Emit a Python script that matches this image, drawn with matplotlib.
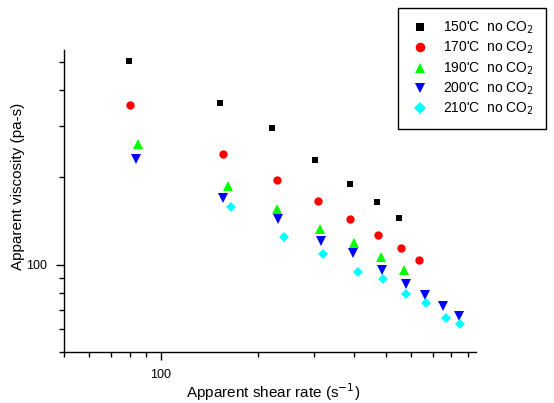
import matplotlib
matplotlib.use("Agg")
import matplotlib.pyplot as plt
from matplotlib.ticker import LogLocator, NullFormatter, FixedLocator, FixedFormatter

plt.rcParams['font.family'] = ['Liberation Sans', 'DejaVu Sans']

labels = ["150'C  no CO$_2$", "170'C  no CO$_2$", "190'C  no CO$_2$",
          "200'C  no CO$_2$", "210'C  no CO$_2$"]

x150 = [79.6, 152.3, 221.1, 302.3, 388.4, 468.8, 550.5]
y150 = [505.1, 359.8, 295.5, 230.3, 189.6, 164.3, 145.0]

x170 = [80.4, 155.6, 229.1, 308.2, 388.4, 472.3, 558.4, 636.6]
y170 = [354.1, 240.3, 195.3, 166.2, 143.5, 126.7, 114.5, 104.1]

x190 = [85.1, 161.3, 229.8, 312.6, 398.8, 482.5, 568.8]
y190 = [260.2, 187.2, 155.8, 132.9, 118.5, 106.3, 95.6]

x200 = [83.7, 156.4, 231.4, 315.6, 394.8, 486.0, 580.0, 663.0, 754.0, 843.3]
y200 = [231.4, 170.1, 143.2, 120.4, 110.0, 96.1, 85.7, 78.6, 72.3, 66.3]

x210 = [165.7, 240.9, 319.4, 410.5, 490.8, 578.7, 667.8, 770.4, 851.8]
y210 = [157.5, 124.8, 108.9, 94.6, 89.2, 79.4, 73.7, 65.6, 62.4]

series = [
    (x150, y150, 's', '#000000', 5.0),
    (x170, y170, 'o', '#FF0000', 6.0),
    (x190, y190, '^', '#00FF00', 6.5),
    (x200, y200, 'v', '#0000FF', 6.5),
    (x210, y210, 'D', '#00FFFF', 5.5),
]

fig = plt.figure(figsize=(5.54, 4.03), dpi=100)
ax = fig.add_axes([64/554, 51/403, (476-64)/554, (352-50)/403])

handles = []
for (xs, ys, m, c, ms), lab in zip(series, labels):
    h, = ax.plot(xs, ys, linestyle='none', marker=m, color=c, markersize=ms,
                 markeredgewidth=0, label=lab)
    handles.append(h)

ax.set_xscale('log')
ax.set_yscale('log')
ax.set_xlim(50, 955)
ax.set_ylim(50, 550)

for a in (ax.xaxis, ax.yaxis):
    a.set_major_locator(FixedLocator([100]))
    a.set_major_formatter(FixedFormatter(['100']))
    a.set_minor_locator(LogLocator(base=10, subs=range(2, 10)))
    a.set_minor_formatter(NullFormatter())

ax.spines['top'].set_visible(False)
ax.spines['right'].set_visible(False)
ax.spines['left'].set_linewidth(1.0)
ax.spines['bottom'].set_linewidth(1.0)
ax.tick_params(which='major', direction='out', length=6, width=1, labelsize=9, pad=6)
ax.tick_params(which='minor', direction='out', length=3.5, width=1)

ax.set_xlabel('Apparent shear rate (s$^{-1}$)', fontsize=11, va='center')
ax.set_ylabel('Apparent viscosity (pa-s)', fontsize=11, va='center')
ax.xaxis.set_label_coords((273 - 64) / 412, (352 - 392) / 302)
ax.yaxis.set_label_coords((18 - 64) / 412, (352 - 186) / 302)

leg = fig.legend(handles=handles, labels=labels, loc='upper left',
                 bbox_to_anchor=(398/554, 1 - 8/403), bbox_transform=fig.transFigure,
                 fancybox=False, edgecolor='black', framealpha=1, fontsize=10,
                 handletextpad=0.9, borderpad=0.85, labelspacing=0.28,
                 handlelength=1.5, borderaxespad=0, markerscale=1.15)
leg.get_frame().set_linewidth(1.0)

fig.savefig('out.png', dpi=100)
